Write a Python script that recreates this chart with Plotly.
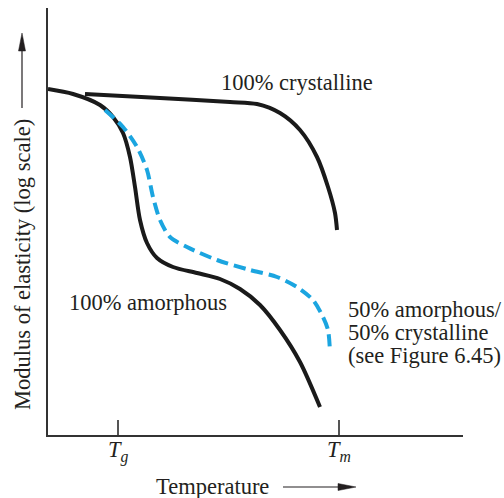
import plotly.graph_objects as go

# Data (arbitrary units: temperature on x, log modulus on y)
amorph_T = [0, 25, 52, 65, 75, 82, 87, 92, 99, 109, 125, 149, 172, 192, 212, 232, 252, 272]
amorph_E = [346, 341, 330, 318, 302, 278, 248, 215, 192, 177, 168, 162, 156, 146, 130, 105, 73, 28]

cryst_T = [37, 112, 182, 209, 232, 252, 269, 280, 287, 289]
cryst_E = [341, 337, 333, 331, 322, 305, 278, 248, 222, 205]

semi_T = [57, 75, 89, 99, 105, 112, 122, 139, 169, 202, 229, 249, 265, 275, 280, 282]
semi_E = [325, 308, 288, 265, 238, 215, 198, 188, 175, 165, 158, 148, 135, 118, 105, 83]

tick_vals = [70, 291]
tick_text = ["<i>T</i><sub><i>g</i></sub>", "<i>T</i><sub><i>m</i></sub>"]

X_MAX, Y_MAX = 415, 427
SERIF = "Liberation Serif"
TXT = "#231f20"
FS = 22.5

fig = go.Figure()
fig.add_trace(go.Scatter(x=amorph_T, y=amorph_E, mode="lines",
                         line=dict(color="#1a1a1a", width=4, shape="spline", smoothing=0.8)))
fig.add_trace(go.Scatter(x=cryst_T, y=cryst_E, mode="lines",
                         line=dict(color="#1a1a1a", width=4, shape="spline", smoothing=0.8)))
fig.add_trace(go.Scatter(x=semi_T, y=semi_E, mode="lines",
                         line=dict(color="#1ba5e0", width=4, shape="spline", smoothing=0.8,
                                   dash="12px,6px")))

fig.update_layout(
    width=504, height=498,
    margin=dict(l=48, r=41, t=8, b=63),
    paper_bgcolor="white", plot_bgcolor="white",
    showlegend=False,
    font=dict(family=SERIF, size=FS, color=TXT),
    xaxis=dict(range=[0, X_MAX], showgrid=False, zeroline=False,
               showline=True, linecolor="#333333", linewidth=2,
               tickmode="array", tickvals=tick_vals, showticklabels=False,
               ticks="inside", ticklen=15, tickwidth=1.5, tickcolor="#555555"),
    yaxis=dict(range=[0, Y_MAX], showgrid=False, zeroline=False,
               showline=True, linecolor="#333333", linewidth=2,
               showticklabels=False, ticks=""),
)

def px(xp):  # pixel column -> paper fraction
    return (xp - 48) / X_MAX

def py(yp):  # pixel row -> paper fraction
    return (435 - yp) / Y_MAX

ann = []
def txt(x, y, s, xanchor="left", size=FS, **kw):
    # x, y given in axis units, converted to paper fractions
    ann.append(dict(x=x / X_MAX, y=y / Y_MAX, text=s, xref="paper", yref="paper",
                    xanchor=xanchor, yanchor="middle", showarrow=False,
                    font=dict(family=SERIF, size=size, color=TXT), **kw))

txt(171, 352, "100% crystalline")
txt(19, 133, "100% amorphous")
txt(298, 126, "50% amorphous/")
txt(298, 103, "50% crystalline")
txt(298, 80, "(see Figure 6.45)")

for v, t in zip(tick_vals, tick_text):
    txt(v, -16, t, xanchor="center")

txt(164, -52, "Temperature", xanchor="center")
txt(-26, 170, "Modulus of elasticity (log scale)", xanchor="center", textangle=-90)

fig.update_layout(annotations=ann)

# arrows beside the axis titles (lines + filled heads)
shapes = [
    dict(type="line", xref="paper", yref="paper", x0=px(283), y0=py(487), x1=px(345), y1=py(487),
         line=dict(color=TXT, width=1.2)),
    dict(type="path", xref="paper", yref="paper",
         path=f"M {px(338)},{py(483.5)} L {px(356)},{py(487)} L {px(338)},{py(490.5)} Z",
         fillcolor=TXT, line=dict(color=TXT, width=0.5)),
    dict(type="line", xref="paper", yref="paper", x0=px(22), y0=py(108), x1=px(22), y1=py(44),
         line=dict(color=TXT, width=1.2)),
    dict(type="path", xref="paper", yref="paper",
         path=f"M {px(18.5)},{py(51)} L {px(22)},{py(33)} L {px(25.5)},{py(51)} Z",
         fillcolor=TXT, line=dict(color=TXT, width=0.5)),
]
fig.update_layout(shapes=shapes)

fig.write_html("out.html", post_script="document.body.style.margin='0';",
               config={"displayModeBar": False})
